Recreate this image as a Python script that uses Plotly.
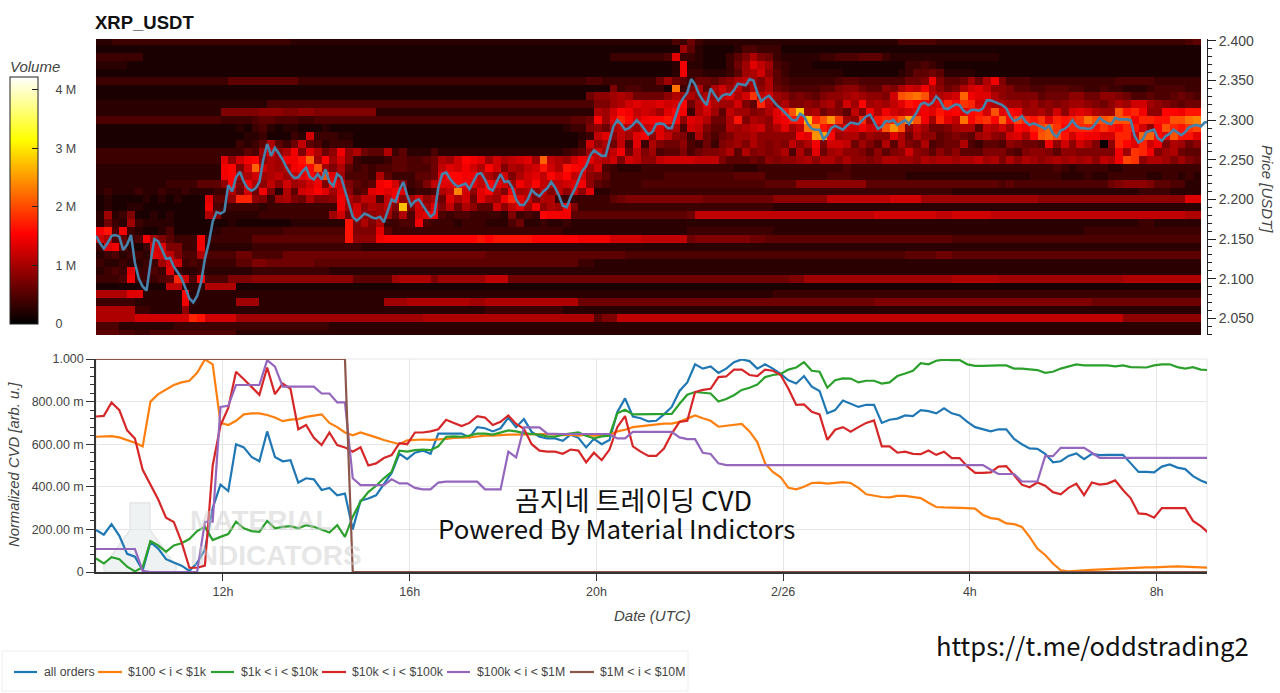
import plotly.graph_objects as go

START_HOUR = 9.28
END_HOUR = 33.08
CVD_STEP_H = 1 / 6
PRICE_STEP_H = 1 / 12
HEAT_STEP_H = 1 / 6

TIME_TICKS = [12, 16, 20, 24, 28, 32]
TIME_LABELS = ["12h", "16h", "20h", "2/26", "4h", "8h"]
PRICE_TICKS = [2.05, 2.10, 2.15, 2.20, 2.25, 2.30, 2.35, 2.40]
CVD_TICKS = [0, 200, 400, 600, 800, 1000]
CVD_LABELS = ["0", "200.00 m", "400.00 m", "600.00 m", "800.00 m", "1.000"]
VOLUME_TICKS = [0, 1, 2, 3, 4]
VOLUME_LABELS = ["0", "1 M", "2 M", "3 M", "4 M"]

# Price in thousandths of USDT, one reading every 5 minutes
PRICE = [
    2154, 2145, 2138, 2145, 2154, 2155, 2153, 2136, 2143, 2155, 2120, 2100, 2090, 2085, 2120, 2150, 2147, 2135, 2125, 2126,
    2115, 2108, 2100, 2088, 2075, 2070, 2078, 2095, 2125, 2145, 2172, 2184, 2182, 2185, 2218, 2210, 2228, 2235, 2222, 2214,
    2211, 2214, 2222, 2250, 2270, 2255, 2265, 2258, 2250, 2240, 2232, 2227, 2228, 2235, 2240, 2228, 2225, 2232, 2225, 2238,
    2222, 2217, 2232, 2228, 2210, 2195, 2178, 2173, 2177, 2182, 2180, 2177, 2176, 2178, 2171, 2185, 2200, 2197, 2212, 2222,
    2205, 2192, 2198, 2200, 2192, 2185, 2178, 2182, 2215, 2232, 2234, 2226, 2220, 2216, 2218, 2220, 2213, 2222, 2232, 2233,
    2225, 2214, 2211, 2222, 2232, 2222, 2223, 2215, 2200, 2193, 2193, 2200, 2212, 2207, 2204, 2210, 2214, 2222, 2215, 2205,
    2192, 2190, 2203, 2212, 2225, 2236, 2242, 2255, 2262, 2258, 2255, 2255, 2275, 2292, 2300, 2295, 2288, 2290, 2294, 2300,
    2295, 2288, 2282, 2285, 2295, 2296, 2295, 2290, 2290, 2305, 2320, 2328, 2335, 2352, 2345, 2333, 2325, 2319, 2340, 2332,
    2325, 2331, 2333, 2332, 2338, 2346, 2345, 2344, 2352, 2350, 2335, 2324, 2328, 2331, 2325, 2319, 2315, 2310, 2304, 2300,
    2300, 2308, 2305, 2295, 2289, 2288, 2288, 2276, 2281, 2290, 2293, 2290, 2288, 2293, 2297, 2296, 2295, 2300, 2305, 2307,
    2298, 2289, 2292, 2299, 2298, 2300, 2294, 2297, 2300, 2295, 2302, 2310, 2320, 2322, 2319, 2322, 2330, 2325, 2315, 2314,
    2317, 2320, 2319, 2312, 2309, 2313, 2313, 2312, 2315, 2325, 2325, 2323, 2320, 2319, 2315, 2305, 2299, 2301, 2305, 2298,
    2294, 2296, 2294, 2291, 2289, 2293, 2283, 2279, 2287, 2289, 2293, 2300, 2293, 2290, 2290, 2289, 2290, 2296, 2303, 2299,
    2296, 2295, 2303, 2301, 2301, 2301, 2300, 2280, 2272, 2275, 2285, 2287, 2288, 2277, 2274, 2280, 2283, 2288, 2285, 2281,
    2285, 2291, 2293, 2294, 2292, 2297, 2298,
]

# Normalized CVD in thousandths, one reading every 10 minutes
CVD_ALL = [
    197, 175, 225, 170, 85, 72, 8, 140, 110, 60, 45, 30, 5, 43, 105, 300, 410, 380, 600, 585, 540, 520, 660, 540, 520, 525,
    420, 440, 435, 385, 395, 360, 368, 200, 335, 345, 360, 410, 465, 555, 530, 560,
    570, 555, 650, 650, 650, 650, 632, 680, 675, 660, 675, 725, 680, 718, 658, 635, 627, 627, 616, 645, 630, 585, 625, 600,
    620, 750, 815, 730, 722, 707, 710, 740, 775, 850, 890, 975, 955, 965, 935, 955, 985, 998, 990, 955, 975, 955, 930, 900,
    885, 920, 870, 850, 745, 760,
    805, 790, 775, 785, 785, 700, 715, 720, 735, 732, 760, 755, 745, 768, 745, 735, 705, 680, 670, 660, 670, 670, 625, 600,
    580, 578, 555, 515, 520, 545, 557, 530, 555, 549, 550, 550, 550, 510, 470, 470, 468, 495, 505, 490, 483, 450, 430, 415,
]
CVD_100_1K = [
    635, 635, 638, 632, 620, 607, 590, 800, 835, 858, 878, 890, 898, 935, 998, 975, 700, 690, 710, 740, 745, 745, 737, 725,
    708, 715, 718, 728, 733, 740, 700, 680, 655, 642, 655, 645, 632, 620, 610, 600, 618, 620,
    622, 620, 622, 625, 630, 630, 632, 636, 640, 640, 643, 645, 645, 646, 648, 648, 648, 645, 643, 645, 640, 645, 640, 640,
    645, 660, 668, 680, 685, 690, 693, 697, 697, 705, 720, 735, 722, 710, 682, 687, 692, 695, 660, 610, 510, 470, 445, 395,
    388, 400, 418, 420, 415, 418,
    422, 418, 395, 365, 357, 352, 350, 357, 357, 352, 347, 325, 305, 303, 303, 302, 300, 298, 268, 253, 248, 228, 225, 212,
    165, 110, 80, 40, 8, 3, 4, 8, 10, 12, 12, 14, 15, 17, 20, 22, 22, 25, 25, 26, 25, 24, 22, 20,
]
CVD_1K_10K = [
    64, 40, 70, 60, 25, 3, 22, 145, 125, 95, 125, 135, 155, 192, 212, 150, 165, 178, 236, 205, 192, 188, 240, 205, 212, 215,
    205, 220, 212, 200, 185, 220, 165, 260, 330, 375, 405, 440, 470, 570, 565, 572,
    575, 572, 590, 635, 637, 635, 640, 650, 650, 645, 655, 665, 660, 652, 648, 645, 637, 635, 645, 650, 655, 640, 627, 637,
    640, 745, 762, 740, 740, 742, 740, 742, 742, 790, 832, 845, 840, 838, 800, 812, 830, 855, 865, 880, 915, 925, 930, 950,
    960, 985, 945, 940, 865, 900,
    909, 908, 890, 898, 898, 885, 890, 920, 932, 945, 980, 975, 992, 997, 995, 995, 975, 968, 968, 970, 970, 970, 955, 955,
    950, 948, 935, 940, 955, 965, 975, 970, 970, 968, 970, 965, 970, 962, 960, 960, 970, 975, 975, 962, 955, 962, 950, 948,
]
CVD_10K_100K = [
    730, 733, 796, 760, 665, 627, 480, 410, 340, 255, 235, 140, 20, 20, 30, 500, 688, 770, 940, 905, 870, 832, 960, 835, 885,
    860, 670, 690, 630, 596, 655, 596, 585, 565, 585, 500, 510, 535, 549, 605, 600, 655,
    655, 660, 670, 715, 700, 685, 700, 732, 725, 690, 705, 735, 695, 672, 600, 570, 565, 565, 555, 575, 570, 515, 560, 525,
    575, 680, 732, 590, 565, 545, 545, 580, 650, 705, 710, 845, 855, 860, 915, 918, 950, 950, 925, 920, 950, 945, 925, 860,
    785, 787, 752, 740, 620, 668,
    680, 659, 680, 700, 712, 590, 590, 560, 565, 555, 553, 570, 550, 565, 535, 535, 495, 465, 465, 468, 495, 497, 455, 410,
    398, 420, 405, 375, 365, 395, 415, 361, 420, 410, 415, 430, 385, 346, 275, 272, 255, 300, 300, 300, 300, 240, 215, 184,
]
CVD_100K_1M = [
    108, 108, 108, 108, 108, 108, 5, 0, 0, 0, 0, 0, 0, 0, 236, 236, 775, 780, 878, 878, 878, 878, 995, 964, 870, 870, 870,
    870, 870, 838, 838, 796, 796, 440, 408, 408, 408, 408, 435, 416, 416, 395,
    388, 388, 420, 424, 424, 424, 424, 424, 388, 388, 388, 565, 538, 679, 679, 679, 650, 648, 648, 648, 648, 648, 648, 648,
    648, 627, 627, 658, 658, 658, 658, 658, 658, 632, 624, 624, 560, 554, 510, 502, 502, 502, 502, 502, 502, 502, 502, 502,
    502, 502, 502, 502, 502, 502,
    502, 502, 502, 502, 502, 502, 502, 502, 502, 502, 502, 502, 502, 502, 502, 502, 502, 502, 502, 480, 460, 460, 460, 425,
    424, 425, 544, 544, 583, 583, 583, 583, 560, 536, 536, 536, 536, 536, 536, 536, 536, 536, 536, 536, 536, 536, 536, 536,
]
CVD_1M_10M = [1000] * 33 + [0] * 111

SERIES_NAMES = ["all orders", "$100 < i < $1k", "$1k < i < $10k", "$10k < i < $100k", "$100k < i < $1M", "$1M < i < $10M"]
SERIES_COLORS = ["#1f77b4", "#ff7f0e", "#2ca02c", "#d62728", "#9467bd", "#8c564b"]

# Resting volume per price level (top row 2.40) and 10-minute column.
# Each character is a base-36 count of 0.1 M.
HEAT_TOP_PRICE = 2.40
HEAT_ROW_STEP = 0.01
HEAT_FLOOR = 0.06
HEAT_ROWS = [
    "2233333333 3333333333 3333322222 2222222222 2222222222 2222222222 2222222222 2222436322 2222222222 2222222222 2224444433 3333333333 3333333333 3333333333 45",
    "1111111111 1111111111 1111111111 1111111111 1111111111 1111111111 1111111111 1111195211 1124433311 1111111111 1111111111 1111111111 1111111111 1111111111 11",
    "3333331111 1111111111 1111111111 1111111111 1111111111 1111111111 1111113333 3334d33211 1357a76322 2223344455 5322222222 2222221111 1111111111 1111111111 11",
    "2222111111 1111111111 1111111111 1111111111 1111111111 1111111111 1111111111 11112e2211 1369db9432 2211111111 1111334321 1111111111 1111111111 1111111111 11",
    "1111111111 1111111111 1111111111 1111111111 1111111111 1111111111 1111111111 11112e3322 2359ac8532 2222221111 1112355652 2221111111 1111111111 1111111111 11",
    "3333333333 3333333555 5555553333 3333333333 3333333333 3333333333 3334433333 3369653665 78ab97a543 3333345544 4444667e75 5696ae7444 3333333333 3444443333 33",
    "1111111111 1111111111 1111111111 1111111111 1111111111 1111111111 1111117344 3331m37a5a c9b7a8a654 4445578865 587acbea86 7acdb88755 4455544334 3322234444 33",
    "1111111111 1111111111 1111111111 1111111111 1111111111 1111111111 1116889a96 6668a9a8a9 bdacibc986 7657889a98 87cklmkbab cledda8777 7566688668 8764454456 54",
    "2222222222 2222222222 2244444444 4444444444 4444444444 4444444444 4444779acd ccdccf6ada 99c75hb8a7 7879a7c9f9 a9bdgfecdh fihcbaa998 9787899876 8a9cc98765 66",
    "2222222222 2222227777 7888778877 7777772222 2222222222 2222222222 2222a9cfeb cb9dfe3ac9 5b9978adgk r9a6875b7e aecbcdedge fdfgckdfe9 9a8c8cdca9 9kghe88ffe gg",
    "4444444444 4444443333 4554443344 4444444444 4444444444 4444444444 4556f9dhfc effgf8dca6 6ag7a98deg grhkoi98h9 ghhkpke9hd bmfhiflfjh gidhghimkk lkkehhggkk mn",
    "1111111111 1111111121 3421221112 1111111111 1111111111 1111111111 233786aba9 bcd9a4cb75 5a9abc8ad9 bmngdbccec ckok8b9667 9aa5bac9fe hjlifhhhgi gfhgc8fkhg ij",
    "1111111111 1111111112 2311132c33 3221111111 1111111111 1111111111 1123bd8b9d e8db873a64 6799a88888 edopf9aa79 88da6a8856 7659a87cda fkljgcfeec chhcllfdkg gd",
    "1111111111 1111111132 35a536b542 3331111111 1111111111 1111111111 113c8a6b4d 3a76684363 7897a8787b 8ae7ccb697 5a5a76a456 6a43554876 65e8c8ca70 8hfdhce7a9 68",
    "3333333333 3333333335 49c8ae7da6 8e8a655a35 2224222222 2222222222 3459c9be6b 7945574677 8a5a7878a4 a6d69a8875 8578c87586 8555777547 8875887777 7e9ihe79a6 55",
    "3333333333 333333d8ce f8a9eegl9f 9c83222355 4456a9cfed 9cabcd9lba 9cedbac7cb 88bccccbbb 7555658788 9a8aa8a887 8aa998a9aa 9aab9a7a8a 989a9a9a8b aeji8aa979 76",
    "2222222222 222222ef7c lca9aeffk9 7a53434455 4446bdceca fc7a9bcgca gfe9c43222 3333333333 3322233333 3333334333 3333333333 3333333333 3334323333 2233333333 33",
    "2222222222 222222ef9a c9ab9bdfck d94443a533 3556dffeeb a8c7acdbfd fbc8753333 3334444444 4455553333 3333444333 3333222222 2222222222 3333222322 3333322332 32",
    "2222222223 3335558f7e a8b8c9ace7 fc7545efc7 347bddfedb fdc9ecfbab cde8543333 4444444444 4444445555 8888888885 5555555555 5555554544 4444444444 6788875544 22",
    "2322232232 2322233a6c 6e72a5cdfd 9d845deded 2334abnc8d fa7e9a8b7b 8c8d223333 3333333333 3333333333 3333333333 3333333333 2222222222 2222222222 2222333322 22",
    "1211112121 2111d558hh 8739a76a77 8ea8bb4be8 9c8a6dac6d a9ehdb7aa3 3333335677 7777777766 6666666888 8888bbbbbb bbcccc9999 9999999999 9888888888 8888888888 dd",
    "1211221111 1111e43333 3233333333 3e9c8a9b7r 7c9d7b6a85 5c8bd9e8a9 e733333333 3333333333 3333333222 2222222222 2222222222 2222222222 2222222222 2222222222 22",
    "2923711212 1111a72222 2333333333 9c6c88995a 4cde434433 3327343fee e555555555 5555556bbb bbbbbbbbbb bbbbbbbbbb ccccccccbb cccccbbbbb bbbbbbbbbb bbbbbbbbbb aa",
    "2632932222 1111111211 1111122222 22g7a7a334 4e43332333 2224622322 3222222222 2222222222 2222222222 2222222222 2222222222 2222222222 2222222222 2222332222 22",
    "eg4e321124 1111123333 3333444444 44g777d533 3333333333 3333333333 2222222222 2222223333 3333333222 2222222222 2222222222 2222222222 2222222333 3333333333 33",
    "ca4534e975 333e333333 5555555555 55g888efff fffffffffg fgggggffff ffeeeecccc bbbbbb6777 7777665555 5555555555 5555555555 4444444444 4444444444 4444444444 44",
    "3de5213cd7 733e222222 3333333333 3333222222 2222222222 2222222222 2222222222 2222222222 2222222222 2222222222 2222222222 2222222222 2222222222 2222222222 22",
    "2342332dcb 744a444466 4444666666 6666666666 6666666666 5555555555 5555555544 4444444444 4444444444 4444444444 4444555566 5555555555 5555555555 5555555555 55",
    "322322339c c343333355 7766666655 5555555555 5555555555 5555555555 5533222222 2222222222 2222222222 2222222222 2222222222 2222222222 2222222222 2222222222 22",
    "2343d3343d 3223222222 3333333333 2222222222 2222222222 2222222222 2222222222 2222222222 2222222222 2222222222 2222222222 2222222222 2222222222 2222222222 22",
    "3334e33345 hc4f444777 8888888888 888555559a aaa7999999 bbb6666666 6666666666 6666666666 6666666667 7999999999 9999999999 aaaaaa9999 9999999999 99aaaaaaaa aa",
    "111111111b b222aaaa11 1111111111 1111111111 1111111111 1111111111 1111111111 1111111111 1111111111 1111111111 1111111111 1111111111 1111111111 1111111111 11",
    "aaaadd2222 2f22222222 2222222222 2222222222 2222222222 2222222222 2222222222 2222222222 2222222333 3333333333 3333333333 3333333333 3333333333 3333333333 33",
    "3333322222 2e22222299 9222222222 2222222999 aaaaaaaa99 aaaaaaaaaa aa66666666 6666666666 6666666666 6666666666 7777777777 7777777777 7777777766 6666666666 66",
    "aaaaa33222 2822222222 2222222222 2222222222 2222222222 3333333333 2222222222 2222222222 2222222222 2222222222 2222222222 2222222222 2222222222 2222222222 22",
    "aaaaaccccc cchgcccc99 9999999999 9999999999 99aaaaaaaa aaaaaaaaaa aaaa577bbb bbbbbbbbbb bbbbbbbbbb bbbbbbbbbb bbbbbbbbbb bbbbbbbbbb bbbbbbbbbb bb88888888 88",
    "4442222222 3333333333 3333333333 2222222222 2222222222 2222222222 2222222222 2222222222 2222222222 2222222222 2222222222 2222222222 2222222222 2222222222 22",
    "5554433444 4444444422 2222222222 2222222222 2222222222 2222222222 2222222222 2222222222 2222222222 2222222222 2222222222 2222222222 2222222222 2222222222 22",
]
HEAT_COLS = 142

W, H = 1280, 693
MARGIN_TOP, MARGIN_BOTTOM = 8, 8


def px_x(p):
    return p / W


def px_y(p):
    return 1 - (p - MARGIN_TOP) / (H - MARGIN_TOP - MARGIN_BOTTOM)


heat_z = []
for row in HEAT_ROWS:
    chars = row.replace(" ", "")
    chars = (chars + chars[-1] * HEAT_COLS)[:HEAT_COLS]
    heat_z.append([int(ch, 36) / 10 + HEAT_FLOOR for ch in chars])
heat_x = [START_HOUR + (c + 0.5) * HEAT_STEP_H for c in range(HEAT_COLS)]
heat_y = [HEAT_TOP_PRICE - r * HEAT_ROW_STEP for r in range(len(HEAT_ROWS))]

FONT = "Liberation Sans"
TICK_FONT = dict(family=FONT, size=12.5, color="#444444")
PRICE_TICK_FONT = dict(family=FONT, size=14, color="#444444")
PAD = "\u00a0\u00a0\u00a0\u00a0"

fig = go.Figure()
fig.add_trace(go.Heatmap(
    x=heat_x, y=heat_y, z=heat_z, zmin=0, zmax=4.22, xaxis="x", yaxis="y", showlegend=False, hoverinfo="skip",
    colorscale=[[0, "#000000"], [0.365, "#ff0000"], [0.746, "#ffff00"], [1, "#ffffff"]],
    colorbar=dict(
        x=px_x(10), xanchor="left", xpad=0, ypad=0, y=px_y(324), yanchor="bottom",
        lenmode="pixels", len=247, thickness=28, thicknessmode="pixels",
        outlinecolor="#222222", outlinewidth=1, borderwidth=0,
        tickmode="array", tickvals=VOLUME_TICKS, ticktext=[PAD + t for t in VOLUME_LABELS],
        ticks="inside", ticklen=6, tickcolor="#222222", tickfont=TICK_FONT,
    ),
))
fig.add_trace(go.Scatter(
    x=[START_HOUR + i * PRICE_STEP_H for i in range(len(PRICE))], y=[v / 1000 for v in PRICE],
    mode="lines", line=dict(color="#4682a9", width=2.6), xaxis="x", yaxis="y", showlegend=False, hoverinfo="skip",
))
for values, name, color in zip(
    [CVD_ALL, CVD_100_1K, CVD_1K_10K, CVD_10K_100K, CVD_100K_1M, CVD_1M_10M], SERIES_NAMES, SERIES_COLORS
):
    fig.add_trace(go.Scatter(
        x=[START_HOUR + i * CVD_STEP_H for i in range(len(values))], y=values, name=name, showlegend=False,
        mode="lines", line=dict(color=color, width=2.2), xaxis="x2", yaxis="y2",
    ))

notes = [
    dict(text="<b>XRP_USDT</b>", x=93, y=22, xanchor="left", size=18.5, color="#111111", font=FONT),
    dict(text="<i>Volume</i>", x=35, y=66, xanchor="center", size=15, color="#444444", font=FONT),
    dict(text="<i>Price [USDT]</i>", x=1268, y=189, xanchor="center", size=15, color="#444444", font=FONT, angle=90),
    dict(text="<i>Normalized CVD [arb. u.]</i>", x=14, y=465, xanchor="center", size=14.8, color="#444444", font=FONT, angle=-90),
    dict(text="<i>Date (UTC)</i>", x=652, y=615, xanchor="center", size=15, color="#444444", font=FONT),
    dict(text="<b>MATERIAL</b>", x=188, y=520, xanchor="left", size=28, color="rgba(205,205,205,0.5)", font=FONT),
    dict(text="<b>INDICATORS</b>", x=188, y=555, xanchor="left", size=28, color="rgba(205,205,205,0.5)", font=FONT),
    dict(text="곰지네 트레이딩 CVD", x=633, y=499, xanchor="center", size=27, color="#111111", font="Noto Sans CJK KR"),
    dict(text="Powered By Material Indictors", x=616, y=527, xanchor="center", size=25.8, color="#111111", font="Noto Sans CJK KR"),
    dict(text="https://t.me/oddstrading2", x=1092, y=644, xanchor="center", size=25.6, color="#111111", font="Noto Sans CJK KR"),
]
# Legend drawn as a row of swatches and labels: [swatch start, swatch end, label start]
LEGEND_SLOTS = [(14, 37, 42), (98, 122, 126), (211, 234, 239), (322, 346, 350), (447, 470, 475), (570, 594, 598)]
LEGEND_Y = 672
for (x0, x1, xt), name in zip(LEGEND_SLOTS, SERIES_NAMES):
    notes.append(dict(text=name, x=xt, y=LEGEND_Y, xanchor="left", size=12.3, color="#444444", font=FONT))

annotations = [
    dict(
        text=n["text"], xref="paper", yref="paper", x=px_x(n["x"]), y=px_y(n["y"]), xanchor=n["xanchor"], yanchor="middle",
        showarrow=False, textangle=n.get("angle", 0), font=dict(family=n["font"], size=n["size"], color=n["color"]),
    )
    for n in notes
]

flask = (
    f"M {px_x(130)} {px_y(503)} L {px_x(150)} {px_y(503)} L {px_x(150)} {px_y(530)} L {px_x(176)} {px_y(566)} "
    f"Q {px_x(178)} {px_y(572)} {px_x(170)} {px_y(572)} L {px_x(110)} {px_y(572)} Q {px_x(102)} {px_y(572)} {px_x(104)} {px_y(566)} "
    f"L {px_x(130)} {px_y(530)} Z"
)
shapes = [
    dict(type="path", xref="paper", yref="paper", path=flask, layer="below",
         fillcolor="#eef2f2", line=dict(color="#e6e6e6", width=1.5)),
    dict(type="rect", xref="paper", yref="paper", x0=px_x(96), x1=px_x(1207), y0=px_y(572), y1=px_y(359),
         layer="below", line=dict(color="#e6e6e6", width=1)),
    dict(type="rect", xref="paper", yref="paper", x0=px_x(2), x1=px_x(688), y0=px_y(691), y1=px_y(651),
         layer="below", line=dict(color="#eeeeee", width=1)),
]
for (x0, x1, xt), color in zip(LEGEND_SLOTS, SERIES_COLORS):
    shapes.append(dict(type="line", xref="paper", yref="paper", x0=px_x(x0), x1=px_x(x1), y0=px_y(LEGEND_Y), y1=px_y(LEGEND_Y),
                       line=dict(color=color, width=2.2)))

fig.update_layout(
    width=W, height=H, margin=dict(l=0, r=0, t=MARGIN_TOP, b=MARGIN_BOTTOM), paper_bgcolor="white", plot_bgcolor="white",
    annotations=annotations, shapes=shapes, showlegend=False,
    xaxis=dict(domain=[px_x(96), px_x(1207)], range=[START_HOUR, END_HOUR], showticklabels=False, ticks="",
               showgrid=False, zeroline=False, showline=False, anchor="y"),
    yaxis=dict(domain=[px_y(335), px_y(39)], range=[2.0288, 2.4025], side="right", anchor="x",
               tickmode="array", tickvals=PRICE_TICKS, ticktext=[f"{v:.3f}" for v in PRICE_TICKS],
               ticks="outside", ticklen=8, tickcolor="#222222", tickfont=PRICE_TICK_FONT, showline=True, linecolor="#222222",
               showgrid=False, zeroline=False,
               minor=dict(dtick=0.01, tick0=2.0, ticks="outside", ticklen=4, tickcolor="#222222", showgrid=False)),
    xaxis2=dict(domain=[px_x(96), px_x(1207)], range=[START_HOUR, END_HOUR], anchor="y2",
                tickmode="array", tickvals=TIME_TICKS, ticktext=TIME_LABELS,
                ticks="outside", ticklen=7, tickcolor="#333333", tickfont=TICK_FONT,
                showline=True, linecolor="#333333", linewidth=1.5, showgrid=True, gridcolor="#e6e6e6", zeroline=False),
    yaxis2=dict(domain=[px_y(572), px_y(359)], range=[0, 1000], anchor="x2",
                tickmode="array", tickvals=CVD_TICKS, ticktext=CVD_LABELS,
                ticks="outside", ticklen=8, tickcolor="#333333", tickfont=TICK_FONT,
                showline=True, linecolor="#333333", linewidth=1.5, showgrid=True, gridcolor="#e6e6e6", zeroline=False,
                minor=dict(dtick=40, tick0=0, ticks="outside", ticklen=4, tickcolor="#333333", showgrid=False)),
)

fig.write_html("out.html", config=dict(displayModeBar=False), post_script="document.body.style.margin='0';")
